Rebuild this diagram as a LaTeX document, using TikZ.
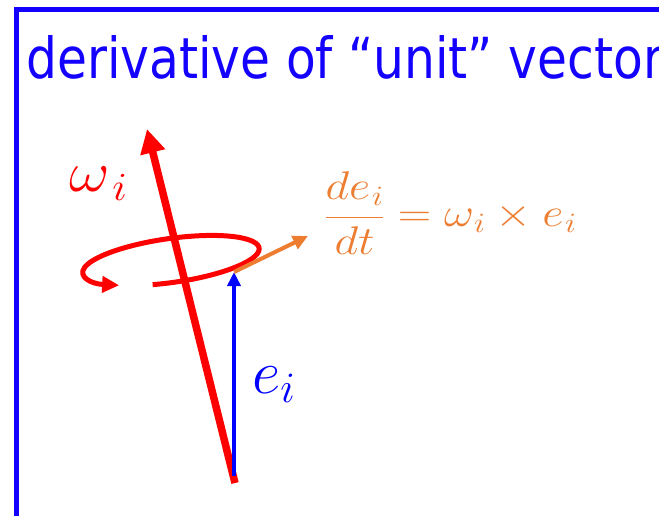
\RequirePackage{fix-cm}
\documentclass[tikz,border=0pt]{standalone}
\usepackage{fontspec}
\usepackage{amsmath}
\newfontfamily\titlefont[FakeStretch=0.86]{DejaVu Sans}
\usetikzlibrary{arrows.meta}
\definecolor{ored}{RGB}{255,0,0}
\definecolor{oorange}{RGB}{237,125,49}
\definecolor{oblue}{RGB}{0,0,255}
\definecolor{tblue}{RGB}{20,0,255}
\tikzset{
  frameline/.style={draw=tblue, line width=5pt, line join=miter},
  axisarrow/.style={draw=ored, line width=7.5pt, -{Triangle[length=24pt,width=24pt]}},
  spinarrow/.style={draw=ored, line width=5pt, -{Triangle[length=17pt,width=16pt]}},
  vecarrow/.style={draw=oblue, line width=4pt, -{Triangle[length=14pt,width=13pt]}},
  derarrow/.style={draw=oorange, line width=4pt, -{Triangle[length=15pt,width=14pt]}},
}
\begin{document}
\begin{tikzpicture}[x=1pt,y=1pt]
\useasboundingbox (0,0) rectangle (659,515);
\clip (0,0) rectangle (659,515);
% frame
\draw[frameline] (16.5,-10) -- (16.5,505) -- (680,505);
% title
\node[anchor=base west, inner sep=0pt, text=tblue, font=\titlefont\fontsize{56.6}{60}\selectfont] (title) at (26,436) {derivative of “unit” vector};
% points
\coordinate (axbot) at (235,32);
\coordinate (axtop) at (147,386);
\coordinate (ebot) at (234,39);
\coordinate (etop) at (234,243);
\coordinate (dtop) at (308,279);
% spin ellipse arc
\draw[spinarrow, shift={(171,254.5)}, rotate=8] (256:89pt and 22pt) arc[start angle=256, end angle=592, x radius=89pt, y radius=22pt];
% axis
\draw[axisarrow] (axbot) -- (axtop);
% vectors
\draw[vecarrow] (ebot) -- (etop);
\draw[derarrow] (etop) -- (dtop);
% labels
\node[anchor=base west, inner sep=0pt, text=ored, font=\fontsize{57}{60}\selectfont] (wlab) at (69,323) {\scalebox{1.1}[1]{$\omega_{\mkern2mu i}$}};
\node[anchor=base west, inner sep=0pt, text=oblue, font=\fontsize{62}{66}\selectfont] (elab) at (252,122) {$e_i$};
\node[anchor=base west, inner sep=0pt, text=oorange, font=\fontsize{40}{44}\selectfont] (eq) at (324,288) {\scalebox{1.16}[1]{$\displaystyle\frac{de_{\mkern1mu i}}{dt}=\omega_{\mkern1mu i}\times e_{\mkern1mu i}$}};
\end{tikzpicture}
\end{document}
